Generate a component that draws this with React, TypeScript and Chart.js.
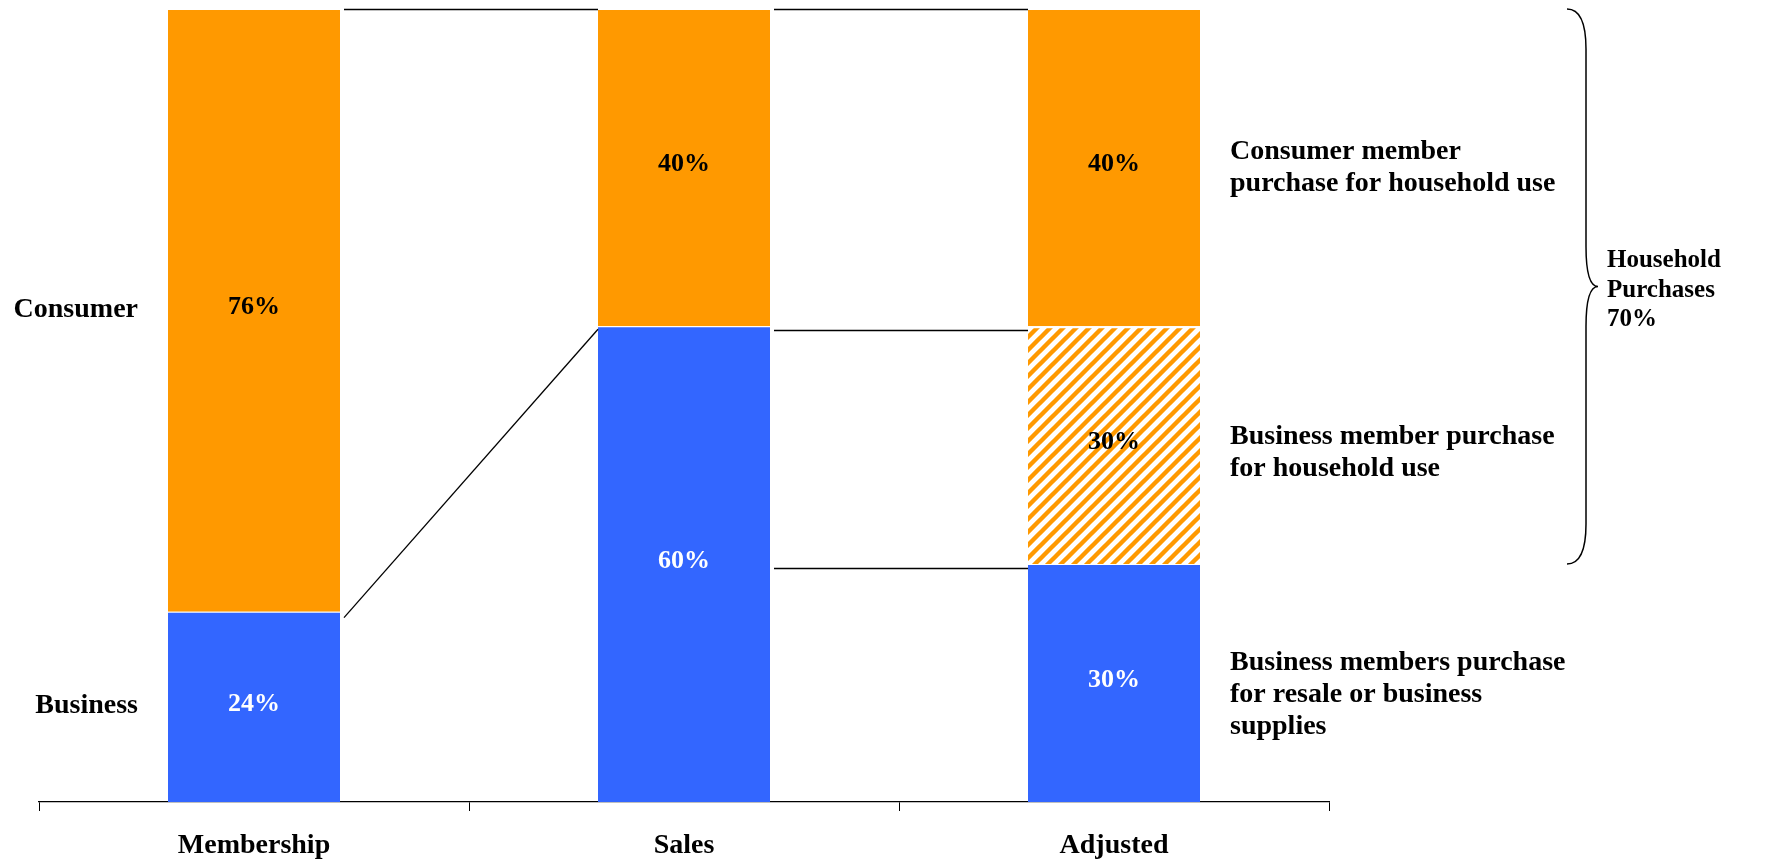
import React, { useEffect, useRef } from 'react';
import { Chart, registerables } from 'chart.js';

Chart.register(...registerables);

const categories = ['Membership', 'Sales', 'Adjusted'];
const businessValues = [24, 60, 30];
const businessHouseholdValues = [0, 0, 30];
const consumerValues = [76, 40, 40];

const leftLabels = ['Business', '', 'Consumer'];
const rightLabels = [
  ['Business members purchase', 'for resale or business', 'supplies'],
  ['Business member purchase', 'for household use'],
  ['Consumer member', 'purchase for household use'],
];
const bracketLabel = ['Household', 'Purchases', '70%'];

const ORANGE = '#FF9900';
const BLUE = '#3366FF';
const FONT = '"Liberation Serif", "Times New Roman", serif';

function makeHatch(): CanvasPattern | string {
  const p = 13;
  const c = document.createElement('canvas');
  c.width = p;
  c.height = p;
  const g = c.getContext('2d');
  if (!g) return ORANGE;
  g.fillStyle = '#ffffff';
  g.fillRect(0, 0, p, p);
  g.strokeStyle = ORANGE;
  g.lineWidth = 4.4;
  g.beginPath();
  g.moveTo(-1, p + 1);
  g.lineTo(p + 1, -1);
  g.moveTo(-p / 2 - 1, p / 2 + 1);
  g.lineTo(p / 2 + 1, -p / 2 - 1);
  g.moveTo(p / 2 - 1, (3 * p) / 2 + 1);
  g.lineTo((3 * p) / 2 + 1, p / 2 - 1);
  g.stroke();
  const pat = g.createPattern(c, 'repeat');
  return pat || ORANGE;
}

const annotate = {
  id: 'annotate',
  afterDatasetsDraw(chart: any) {
    const ctx = chart.ctx as CanvasRenderingContext2D;
    const ys = chart.scales.y;
    const py = (v: number) => ys.getPixelForValue(v);
    const sets = chart.data.datasets;
    const bar = (d: number, c: number) => chart.getDatasetMeta(d).data[c] as any;
    const left = (d: number, c: number) => bar(d, c).x - bar(d, c).width / 2;
    const right = (d: number, c: number) => bar(d, c).x + bar(d, c).width / 2;
    const cum = (c: number, k: number) => {
      let s = 0;
      for (let i = 0; i < k; i++) s += Number(sets[i].data[c]) || 0;
      return s;
    };
    const segMid = (d: number, c: number) => (py(cum(c, d)) + py(cum(c, d + 1))) / 2;

    ctx.save();
    // value labels
    ctx.font = `bold 26px ${FONT}`;
    ctx.textAlign = 'center';
    ctx.textBaseline = 'middle';
    for (let d = 0; d < sets.length; d++) {
      for (let c = 0; c < categories.length; c++) {
        const v = Number(sets[d].data[c]);
        if (!v) continue;
        const el = bar(d, c);
        ctx.fillStyle = d === 0 ? '#ffffff' : '#000000';
        ctx.fillText(`${v}%`, el.x, (el.y + el.base) / 2 - 3);
      }
    }

    // connector lines
    ctx.strokeStyle = '#000000';
    ctx.lineWidth = 1.3;
    const line = (x1: number, y1: number, x2: number, y2: number) => {
      ctx.beginPath();
      ctx.moveTo(x1, y1);
      ctx.lineTo(x2, y2);
      ctx.stroke();
    };
    const h = (v: number) => Math.round(v) + 0.5;
    line(right(0, 0) + 4, h(py(100)), left(0, 1), h(py(100)));
    line(right(0, 0) + 4, py(cum(0, 1)) + 6, left(0, 1), py(cum(1, 1)) + 3);
    line(right(0, 1) + 4, h(py(100)), left(0, 2), h(py(100)));
    line(right(0, 1) + 4, h(py(cum(1, 1)) + 4), left(0, 2), h(py(cum(1, 1)) + 4));
    line(right(0, 1) + 4, h(py(cum(2, 1)) + 4), left(0, 2), h(py(cum(2, 1)) + 4));

    // left labels (first category)
    ctx.fillStyle = '#000000';
    ctx.font = `bold 28px ${FONT}`;
    ctx.textAlign = 'right';
    leftLabels.forEach((t, d) => {
      if (!t) return;
      ctx.fillText(t, left(0, 0) - 30, segMid(d, 0) - 1);
    });

    // right labels (last category)
    ctx.textAlign = 'left';
    const lc = categories.length - 1;
    const lh = 32;
    const shift = [11.5, 7.5, 0];
    rightLabels.forEach((lines, d) => {
      const mid = segMid(d, lc) + shift[d];
      lines.forEach((t, i) => {
        ctx.fillText(t, right(0, lc) + 30, mid - ((lines.length - 1) / 2) * lh + i * lh);
      });
    });

    // brace
    const top = py(100);
    const bot = py(cum(lc, 1));
    const mid = (top + bot) / 2;
    const x0 = chart.chartArea.right + 238;
    const xv = x0 + 19;
    const xt = x0 + 31;
    const r = 40;
    ctx.lineWidth = 1.5;
    ctx.beginPath();
    ctx.moveTo(x0, top);
    ctx.quadraticCurveTo(xv, top, xv, top + r);
    ctx.lineTo(xv, mid - r);
    ctx.quadraticCurveTo(xv, mid, xt, mid);
    ctx.quadraticCurveTo(xv, mid, xv, mid + r);
    ctx.lineTo(xv, bot - r);
    ctx.quadraticCurveTo(xv, bot, x0, bot);
    ctx.stroke();

    ctx.font = `bold 25px ${FONT}`;
    const blh = 29.5;
    bracketLabel.forEach((t, i) => {
      ctx.fillText(t, xt + 9, mid + 3.5 - ((bracketLabel.length - 1) / 2) * blh + i * blh);
    });
    ctx.restore();
  },
};

export default function App() {
  const ref = useRef<HTMLCanvasElement | null>(null);
  useEffect(() => {
    if (!ref.current) return;
    const hatch = makeHatch();
    const chart = new Chart(ref.current, {
      type: 'bar',
      data: {
        labels: categories,
        datasets: [
          { label: 'Business', data: businessValues, backgroundColor: BLUE, borderColor: '#ffffff', borderWidth: { top: 1, left: 0, right: 0, bottom: 0 } },
          { label: 'Business household', data: businessHouseholdValues, backgroundColor: hatch as any, borderColor: '#ffffff', borderWidth: { top: 2, left: 0, right: 0, bottom: 0 } },
          { label: 'Consumer', data: consumerValues, backgroundColor: ORANGE, borderColor: '#ffffff', borderWidth: { top: 1, left: 0, right: 0, bottom: 0 } },
        ],
      },
      options: {
        responsive: false,
        maintainAspectRatio: false,
        devicePixelRatio: 1,
        animation: false,
        layout: { padding: { left: 39, right: 454, top: 9, bottom: 0 } },
        datasets: { bar: { barPercentage: 0.4, categoryPercentage: 1 } },
        plugins: { legend: { display: false }, tooltip: { enabled: false }, title: { display: false } },
        scales: {
          x: {
            stacked: true,
            afterFit: (axis: any) => {
              axis.height = 57;
            },
            grid: { display: true, drawOnChartArea: false, drawTicks: true, tickLength: 9, color: '#000000', lineWidth: 1, offset: true },
            border: { display: true, color: '#000000', width: 1.3 },
            ticks: {
              color: '#000000',
              font: { family: FONT, size: 28, weight: 'bold' },
              padding: 18,
              autoSkip: false,
              maxRotation: 0,
            },
          },
          y: { stacked: true, display: false, min: 0, max: 100 },
        },
      },
      plugins: [annotate],
    } as any);
    return () => chart.destroy();
  }, []);
  return (
    <div style={{ position: 'absolute', left: 0, top: 0, width: 1783, height: 859, background: '#ffffff' }}>
      <canvas ref={ref} width={1783} height={859} style={{ display: 'block', width: 1783, height: 859 }} />
    </div>
  );
}
